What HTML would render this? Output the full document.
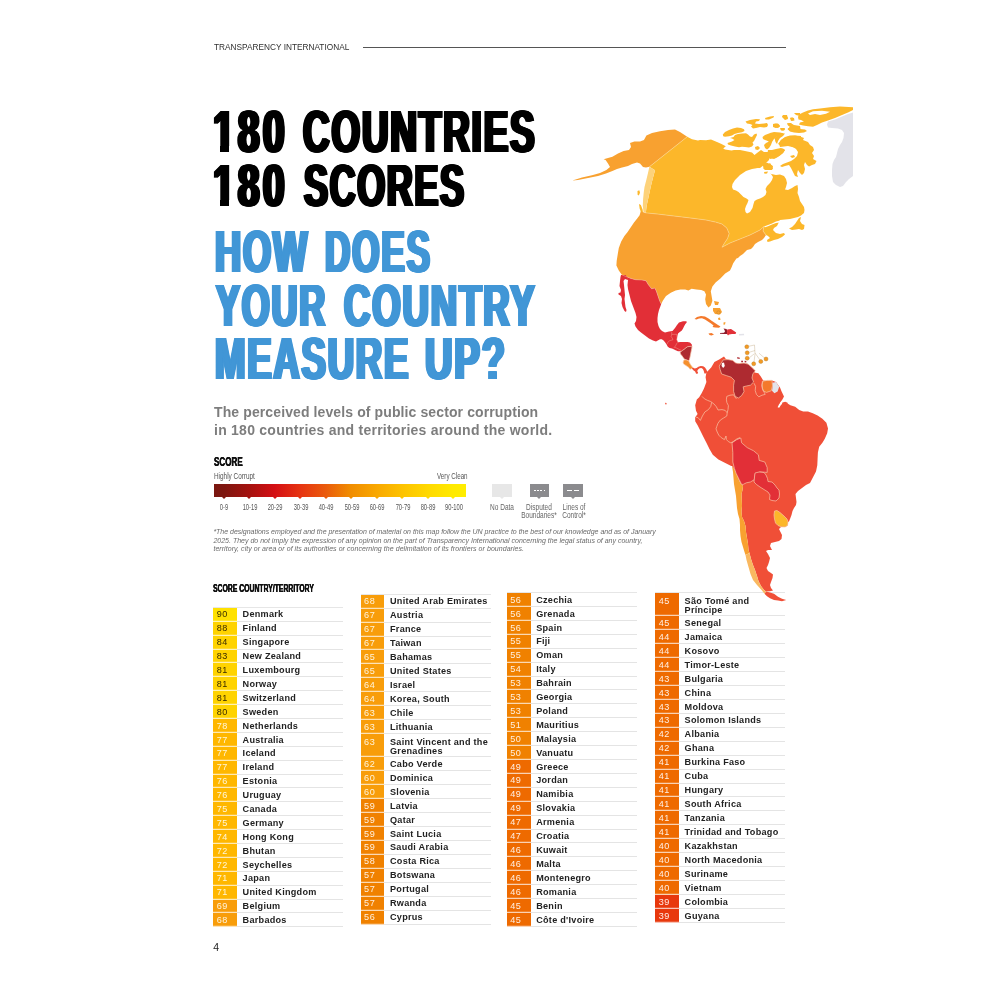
<!DOCTYPE html>
<html lang="en">
<head>
<meta charset="utf-8">
<title>Corruption Perceptions Index 2024 - 180 Countries, 180 Scores</title>
<style>
html,body{margin:0;padding:0;background:#fff;}
body{width:1000px;height:1000px;position:relative;overflow:hidden;font-family:"Liberation Sans",sans-serif;color:#1d1d1b;}
.abs{position:absolute;white-space:nowrap;}
.hdr{left:213.6px;top:41.6px;font-size:9px;line-height:11px;color:#303030;transform-origin:0 0;transform:scaleX(.92);}
.hline{position:absolute;left:363px;top:46.9px;width:423px;height:1px;background:#555;}
h1,h2,p{margin:0;padding:0;}
.t{position:absolute;white-space:nowrap;font-weight:bold;font-size:58.5px;line-height:58.5px;transform-origin:0 0;text-shadow:-2.80px 0 0 currentColor,-1.87px 0 0 currentColor,-0.93px 0 0 currentColor,0.93px 0 0 currentColor,1.87px 0 0 currentColor,2.80px 0 0 currentColor;}
.k{color:#000;}
.cv{position:absolute;background:#fff;}
.b{color:#4196d6;}
.sub{position:absolute;left:214px;top:402.8px;font-weight:bold;font-size:14px;line-height:18.4px;color:#7d7d7d;white-space:nowrap;}
.sub span{display:block;}
.cond{position:absolute;white-space:nowrap;transform-origin:0 0;}
.score{left:213.8px;top:456.4px;font-weight:bold;font-size:12.4px;line-height:13px;transform:scaleX(.65);color:#111;text-shadow:.35px 0 0 #111,-.2px 0 0 #111;}
.hc,.vc{top:470.6px;font-size:8.6px;line-height:10px;color:#555;}
.hc{left:213.8px;transform:scaleX(.744);}
.vc{left:436.8px;transform:scaleX(.728);}
.bar{position:absolute;left:214.2px;top:484.2px;width:252px;height:12.8px;background:linear-gradient(90deg,#7a1710 0%,#7e1710 4%,#a5120f 14%,#d40f14 24%,#e63312 34%,#ea5b0c 44.4%,#f08c00 54%,#f9a800 64.6%,#fdc300 75%,#ffd900 85%,#ffea00 95%,#ffed00 100%);}
.tk{position:absolute;top:496.9px;width:0;height:0;border-left:2.2px solid transparent;border-right:2.2px solid transparent;border-top:2.6px solid #c00;}
.lb{position:absolute;top:501.6px;width:40px;text-align:center;font-size:9px;line-height:10px;color:#555;white-space:nowrap;transform:scaleX(.64);}
.box{position:absolute;top:484px;height:13px;}
.nd{left:492px;width:19.8px;background:#e7e7e7;}
.db{left:529.7px;width:19.3px;background:#8b8b8e;}
.lc{left:563.4px;width:19.2px;background:#8b8b8e;}
.dots{position:absolute;left:4.2px;top:5.9px;width:11.6px;height:1px;background:repeating-linear-gradient(90deg,#fff 0,#fff 1.9px,transparent 1.9px,transparent 3.2px);}
.dash{position:absolute;top:5.8px;width:5px;height:1.1px;background:#fff;}
.ptr{position:absolute;top:496.9px;width:0;height:0;border-left:2px solid transparent;border-right:2px solid transparent;border-top:2.4px solid #8b8b8e;}
.ll{position:absolute;width:60px;text-align:center;font-size:8.6px;line-height:8.1px;color:#666;white-space:nowrap;transform:scaleX(.76);top:502.6px;}
.fn{position:absolute;left:213.4px;top:528.2px;font-style:italic;font-size:7px;line-height:8.5px;color:#6a6a6a;white-space:nowrap;}
.fn span{display:block;}
.th{left:213.4px;top:581.2px;font-weight:bold;font-size:11.6px;line-height:13px;transform:scaleX(.59);color:#111;text-shadow:.35px 0 0 #111,-.2px 0 0 #111;}
.col{position:absolute;border-top:1px solid #e6e6e6;}
.row{position:relative;box-sizing:border-box;border-bottom:1px solid #e4e4e4;font-size:9.1px;line-height:12.9px;white-space:nowrap;}
.sc{position:absolute;left:0;top:0;bottom:-1px;line-height:12.9px;padding-top:.6px;width:20.4px;padding-left:3.6px;text-align:left;letter-spacing:.5px;box-shadow:inset 0 -1.2px 0 rgba(255,255,255,.7);}
.nm{position:absolute;left:29.5px;top:.6px;font-weight:bold;color:#222;letter-spacing:.27px;}
.dbl .nm{line-height:9px;top:3.7px;}
.dbl .sc{line-height:9px;padding-top:3.7px;}
.pn{left:213.3px;top:941px;font-size:10.5px;line-height:12px;color:#222;}
.map{position:absolute;left:0;top:0;width:1000px;height:1000px;}
</style>
</head>
<body>
<div class="abs hdr">TRANSPARENCY INTERNATIONAL</div>
<div class="hline"></div>
<h1>
<span class="t k" style="left:213.0px;top:103.3px;transform:scaleX(0.665);letter-spacing:5.0px">180</span> <span class="t k" style="left:303.1px;top:103.3px;transform:scaleX(0.63);letter-spacing:2.9px">COUNTRIES</span>
<span class="t k" style="left:213.0px;top:157.3px;transform:scaleX(0.665);letter-spacing:5.0px">180</span> <span class="t k" style="left:304.1px;top:157.3px;transform:scaleX(0.615);letter-spacing:2.62px">SCORES</span>
</h1>
<h2>
<span class="t b" style="left:215.3px;top:223.4px;transform:scaleX(0.62);letter-spacing:2.96px">HOW</span> <span class="t b" style="left:325.0px;top:223.4px;transform:scaleX(0.6);letter-spacing:3.09px">DOES</span>
<span class="t b" style="left:215.9px;top:277.3px;transform:scaleX(0.615);letter-spacing:2.91px">YOUR</span> <span class="t b" style="left:344.0px;top:277.3px;transform:scaleX(0.625);letter-spacing:2.99px">COUNTRY</span>
<span class="t b" style="left:215.3px;top:330.4px;transform:scaleX(0.625);letter-spacing:2.8px">MEASURE</span> <span class="t b" style="left:424.8px;top:330.4px;transform:scaleX(0.65);letter-spacing:3.04px">UP?</span>
</h2>
<i class="cv" style="left:212.4px;top:145.6px;width:7.6px;height:6.9px"></i><i class="cv" style="left:229px;top:145.6px;width:8px;height:6.9px"></i><i class="cv" style="left:212.4px;top:199.6px;width:7.6px;height:6.9px"></i><i class="cv" style="left:229px;top:199.6px;width:8px;height:6.9px"></i>

<p class="sub"><span style="letter-spacing:.11px">The perceived levels of public sector corruption</span><span style="letter-spacing:.25px">in 180 countries and territories around the world.</span></p>
<div class="cond score">SCORE</div>
<div class="cond hc">Highly Corrupt</div>
<div class="cond vc">Very Clean</div>
<div class="bar"></div>
<i class="tk" style="left:221.8px;border-top-color:#7e1710"></i><i class="tk" style="left:247.3px;border-top-color:#a5120f"></i><i class="tk" style="left:272.8px;border-top-color:#d40f14"></i><i class="tk" style="left:298.3px;border-top-color:#e63312"></i><i class="tk" style="left:323.8px;border-top-color:#ea5b0c"></i><i class="tk" style="left:349.3px;border-top-color:#f08c00"></i><i class="tk" style="left:374.8px;border-top-color:#f9a800"></i><i class="tk" style="left:400.3px;border-top-color:#fdc300"></i><i class="tk" style="left:425.8px;border-top-color:#ffd900"></i><i class="tk" style="left:451.3px;border-top-color:#ffea00"></i>
<span class="lb" style="left:204.0px">0-9</span><span class="lb" style="left:229.5px">10-19</span><span class="lb" style="left:255.0px">20-29</span><span class="lb" style="left:280.5px">30-39</span><span class="lb" style="left:306.0px">40-49</span><span class="lb" style="left:331.5px">50-59</span><span class="lb" style="left:357.0px">60-69</span><span class="lb" style="left:382.5px">70-79</span><span class="lb" style="left:408.0px">80-89</span><span class="lb" style="left:433.5px">90-100</span>
<div class="box nd"></div><i class="ptr" style="left:499.7px;border-top-color:#e7e7e7"></i>
<div class="box db"><i class="dots"></i></div><i class="ptr" style="left:537.2px"></i>
<div class="box lc"><i class="dash" style="left:3.3px"></i><i class="dash" style="left:10.9px"></i></div><i class="ptr" style="left:571px"></i>
<span class="ll" style="left:471.5px">No Data</span>
<span class="ll" style="left:509.3px">Disputed<br>Boundaries*</span>
<span class="ll" style="left:543.5px">Lines of<br>Control*</span>
<p class="fn"><span style="letter-spacing:-.014px">*The designations employed and the presentation of material on this map follow the UN practice to the best of our knowledge and as of January</span><span style="letter-spacing:.006px">2025. They do not imply the expression of any opinion on the part of Transparency International concerning the legal status of any country,</span><span style="letter-spacing:.054px">territory, city or area or of its authorities or concerning the delimitation of its frontiers or boundaries.</span></p>
<div class="cond th">SCORE COUNTRY/TERRITORY</div>
<div class="col c1" style="left:213.1px;top:606.9px;width:130.4px">
<div class="row" style="height:13.9px"><span class="sc" style="background:#ffe100;color:#3a3000">90</span><span class="nm">Denmark</span></div>
<div class="row" style="height:13.9px"><span class="sc" style="background:#ffd300;color:#3a2c00">88</span><span class="nm">Finland</span></div>
<div class="row" style="height:13.9px"><span class="sc" style="background:#ffd300;color:#3a2c00">84</span><span class="nm">Singapore</span></div>
<div class="row" style="height:13.9px"><span class="sc" style="background:#ffd300;color:#3a2c00">83</span><span class="nm">New Zealand</span></div>
<div class="row" style="height:13.9px"><span class="sc" style="background:#ffd300;color:#3a2c00">81</span><span class="nm">Luxembourg</span></div>
<div class="row" style="height:13.9px"><span class="sc" style="background:#ffd300;color:#3a2c00">81</span><span class="nm">Norway</span></div>
<div class="row" style="height:13.9px"><span class="sc" style="background:#ffd300;color:#3a2c00">81</span><span class="nm">Switzerland</span></div>
<div class="row" style="height:13.9px"><span class="sc" style="background:#ffd300;color:#3a2c00">80</span><span class="nm">Sweden</span></div>
<div class="row" style="height:13.9px"><span class="sc" style="background:#ffb700;color:#fff6d8">78</span><span class="nm">Netherlands</span></div>
<div class="row" style="height:13.9px"><span class="sc" style="background:#ffb700;color:#fff6d8">77</span><span class="nm">Australia</span></div>
<div class="row" style="height:13.9px"><span class="sc" style="background:#ffb700;color:#fff6d8">77</span><span class="nm">Iceland</span></div>
<div class="row" style="height:13.9px"><span class="sc" style="background:#ffb700;color:#fff6d8">77</span><span class="nm">Ireland</span></div>
<div class="row" style="height:13.9px"><span class="sc" style="background:#ffb700;color:#fff6d8">76</span><span class="nm">Estonia</span></div>
<div class="row" style="height:13.9px"><span class="sc" style="background:#ffb700;color:#fff6d8">76</span><span class="nm">Uruguay</span></div>
<div class="row" style="height:13.9px"><span class="sc" style="background:#ffb700;color:#fff6d8">75</span><span class="nm">Canada</span></div>
<div class="row" style="height:13.9px"><span class="sc" style="background:#ffb700;color:#fff6d8">75</span><span class="nm">Germany</span></div>
<div class="row" style="height:13.9px"><span class="sc" style="background:#ffb700;color:#fff6d8">74</span><span class="nm">Hong Kong</span></div>
<div class="row" style="height:13.9px"><span class="sc" style="background:#ffb700;color:#fff6d8">72</span><span class="nm">Bhutan</span></div>
<div class="row" style="height:13.9px"><span class="sc" style="background:#ffb700;color:#fff6d8">72</span><span class="nm">Seychelles</span></div>
<div class="row" style="height:13.9px"><span class="sc" style="background:#ffb700;color:#fff6d8">71</span><span class="nm">Japan</span></div>
<div class="row" style="height:13.9px"><span class="sc" style="background:#ffb700;color:#fff6d8">71</span><span class="nm">United Kingdom</span></div>
<div class="row" style="height:13.9px"><span class="sc" style="background:#f89d0a;color:#fff4dc">69</span><span class="nm">Belgium</span></div>
<div class="row" style="height:13.9px"><span class="sc" style="background:#f89d0a;color:#fff4dc">68</span><span class="nm">Barbados</span></div>
</div>
<div class="col c2" style="left:360.5px;top:593.7px;width:130.4px">
<div class="row" style="height:13.95px"><span class="sc" style="background:#f89d0a;color:#fff4dc">68</span><span class="nm">United Arab Emirates</span></div>
<div class="row" style="height:13.95px"><span class="sc" style="background:#f89d0a;color:#fff4dc">67</span><span class="nm">Austria</span></div>
<div class="row" style="height:13.95px"><span class="sc" style="background:#f89d0a;color:#fff4dc">67</span><span class="nm">France</span></div>
<div class="row" style="height:13.95px"><span class="sc" style="background:#f89d0a;color:#fff4dc">67</span><span class="nm">Taiwan</span></div>
<div class="row" style="height:13.95px"><span class="sc" style="background:#f89d0a;color:#fff4dc">65</span><span class="nm">Bahamas</span></div>
<div class="row" style="height:13.95px"><span class="sc" style="background:#f89d0a;color:#fff4dc">65</span><span class="nm">United States</span></div>
<div class="row" style="height:13.95px"><span class="sc" style="background:#f89d0a;color:#fff4dc">64</span><span class="nm">Israel</span></div>
<div class="row" style="height:13.95px"><span class="sc" style="background:#f89d0a;color:#fff4dc">64</span><span class="nm">Korea, South</span></div>
<div class="row" style="height:13.95px"><span class="sc" style="background:#f89d0a;color:#fff4dc">63</span><span class="nm">Chile</span></div>
<div class="row" style="height:13.95px"><span class="sc" style="background:#f89d0a;color:#fff4dc">63</span><span class="nm">Lithuania</span></div>
<div class="row dbl" style="height:23.2px"><span class="sc" style="background:#f89d0a;color:#fff4dc">63</span><span class="nm">Saint Vincent and the<br>Grenadines</span></div>
<div class="row" style="height:13.95px"><span class="sc" style="background:#f89d0a;color:#fff4dc">62</span><span class="nm">Cabo Verde</span></div>
<div class="row" style="height:13.95px"><span class="sc" style="background:#f89d0a;color:#fff4dc">60</span><span class="nm">Dominica</span></div>
<div class="row" style="height:13.95px"><span class="sc" style="background:#f89d0a;color:#fff4dc">60</span><span class="nm">Slovenia</span></div>
<div class="row" style="height:13.95px"><span class="sc" style="background:#f08100;color:#fff1e0">59</span><span class="nm">Latvia</span></div>
<div class="row" style="height:13.95px"><span class="sc" style="background:#f08100;color:#fff1e0">59</span><span class="nm">Qatar</span></div>
<div class="row" style="height:13.95px"><span class="sc" style="background:#f08100;color:#fff1e0">59</span><span class="nm">Saint Lucia</span></div>
<div class="row" style="height:13.95px"><span class="sc" style="background:#f08100;color:#fff1e0">59</span><span class="nm">Saudi Arabia</span></div>
<div class="row" style="height:13.95px"><span class="sc" style="background:#f08100;color:#fff1e0">58</span><span class="nm">Costa Rica</span></div>
<div class="row" style="height:13.95px"><span class="sc" style="background:#f08100;color:#fff1e0">57</span><span class="nm">Botswana</span></div>
<div class="row" style="height:13.95px"><span class="sc" style="background:#f08100;color:#fff1e0">57</span><span class="nm">Portugal</span></div>
<div class="row" style="height:13.95px"><span class="sc" style="background:#f08100;color:#fff1e0">57</span><span class="nm">Rwanda</span></div>
<div class="row" style="height:13.95px"><span class="sc" style="background:#f08100;color:#fff1e0">56</span><span class="nm">Cyprus</span></div>
</div>
<div class="col c3" style="left:506.7px;top:592.1px;width:130.7px">
<div class="row" style="height:13.91px"><span class="sc" style="background:#f08100;color:#fff1e0">56</span><span class="nm">Czechia</span></div>
<div class="row" style="height:13.91px"><span class="sc" style="background:#f08100;color:#fff1e0">56</span><span class="nm">Grenada</span></div>
<div class="row" style="height:13.91px"><span class="sc" style="background:#f08100;color:#fff1e0">56</span><span class="nm">Spain</span></div>
<div class="row" style="height:13.91px"><span class="sc" style="background:#f08100;color:#fff1e0">55</span><span class="nm">Fiji</span></div>
<div class="row" style="height:13.91px"><span class="sc" style="background:#f08100;color:#fff1e0">55</span><span class="nm">Oman</span></div>
<div class="row" style="height:13.91px"><span class="sc" style="background:#f08100;color:#fff1e0">54</span><span class="nm">Italy</span></div>
<div class="row" style="height:13.91px"><span class="sc" style="background:#f08100;color:#fff1e0">53</span><span class="nm">Bahrain</span></div>
<div class="row" style="height:13.91px"><span class="sc" style="background:#f08100;color:#fff1e0">53</span><span class="nm">Georgia</span></div>
<div class="row" style="height:13.91px"><span class="sc" style="background:#f08100;color:#fff1e0">53</span><span class="nm">Poland</span></div>
<div class="row" style="height:13.91px"><span class="sc" style="background:#f08100;color:#fff1e0">51</span><span class="nm">Mauritius</span></div>
<div class="row" style="height:13.91px"><span class="sc" style="background:#f08100;color:#fff1e0">50</span><span class="nm">Malaysia</span></div>
<div class="row" style="height:13.91px"><span class="sc" style="background:#f08100;color:#fff1e0">50</span><span class="nm">Vanuatu</span></div>
<div class="row" style="height:13.91px"><span class="sc" style="background:#ee6a00;color:#fff0e4">49</span><span class="nm">Greece</span></div>
<div class="row" style="height:13.91px"><span class="sc" style="background:#ee6a00;color:#fff0e4">49</span><span class="nm">Jordan</span></div>
<div class="row" style="height:13.91px"><span class="sc" style="background:#ee6a00;color:#fff0e4">49</span><span class="nm">Namibia</span></div>
<div class="row" style="height:13.91px"><span class="sc" style="background:#ee6a00;color:#fff0e4">49</span><span class="nm">Slovakia</span></div>
<div class="row" style="height:13.91px"><span class="sc" style="background:#ee6a00;color:#fff0e4">47</span><span class="nm">Armenia</span></div>
<div class="row" style="height:13.91px"><span class="sc" style="background:#ee6a00;color:#fff0e4">47</span><span class="nm">Croatia</span></div>
<div class="row" style="height:13.91px"><span class="sc" style="background:#ee6a00;color:#fff0e4">46</span><span class="nm">Kuwait</span></div>
<div class="row" style="height:13.91px"><span class="sc" style="background:#ee6a00;color:#fff0e4">46</span><span class="nm">Malta</span></div>
<div class="row" style="height:13.91px"><span class="sc" style="background:#ee6a00;color:#fff0e4">46</span><span class="nm">Montenegro</span></div>
<div class="row" style="height:13.91px"><span class="sc" style="background:#ee6a00;color:#fff0e4">46</span><span class="nm">Romania</span></div>
<div class="row" style="height:13.91px"><span class="sc" style="background:#ee6a00;color:#fff0e4">45</span><span class="nm">Benin</span></div>
<div class="row" style="height:13.91px"><span class="sc" style="background:#ee6a00;color:#fff0e4">45</span><span class="nm">Côte d'Ivoire</span></div>
</div>
<div class="col c4" style="left:655.1px;top:592.1px;width:130.2px">
<div class="row dbl" style="height:23.2px"><span class="sc" style="background:#ee6a00;color:#fff0e4">45</span><span class="nm">São Tomé and<br>Príncipe</span></div>
<div class="row" style="height:13.94px"><span class="sc" style="background:#ee6a00;color:#fff0e4">45</span><span class="nm">Senegal</span></div>
<div class="row" style="height:13.94px"><span class="sc" style="background:#ee6a00;color:#fff0e4">44</span><span class="nm">Jamaica</span></div>
<div class="row" style="height:13.94px"><span class="sc" style="background:#ee6a00;color:#fff0e4">44</span><span class="nm">Kosovo</span></div>
<div class="row" style="height:13.94px"><span class="sc" style="background:#ee6a00;color:#fff0e4">44</span><span class="nm">Timor-Leste</span></div>
<div class="row" style="height:13.94px"><span class="sc" style="background:#ee6a00;color:#fff0e4">43</span><span class="nm">Bulgaria</span></div>
<div class="row" style="height:13.94px"><span class="sc" style="background:#ee6a00;color:#fff0e4">43</span><span class="nm">China</span></div>
<div class="row" style="height:13.94px"><span class="sc" style="background:#ee6a00;color:#fff0e4">43</span><span class="nm">Moldova</span></div>
<div class="row" style="height:13.94px"><span class="sc" style="background:#ee6a00;color:#fff0e4">43</span><span class="nm">Solomon Islands</span></div>
<div class="row" style="height:13.94px"><span class="sc" style="background:#ee6a00;color:#fff0e4">42</span><span class="nm">Albania</span></div>
<div class="row" style="height:13.94px"><span class="sc" style="background:#ee6a00;color:#fff0e4">42</span><span class="nm">Ghana</span></div>
<div class="row" style="height:13.94px"><span class="sc" style="background:#ee6a00;color:#fff0e4">41</span><span class="nm">Burkina Faso</span></div>
<div class="row" style="height:13.94px"><span class="sc" style="background:#ee6a00;color:#fff0e4">41</span><span class="nm">Cuba</span></div>
<div class="row" style="height:13.94px"><span class="sc" style="background:#ee6a00;color:#fff0e4">41</span><span class="nm">Hungary</span></div>
<div class="row" style="height:13.94px"><span class="sc" style="background:#ee6a00;color:#fff0e4">41</span><span class="nm">South Africa</span></div>
<div class="row" style="height:13.94px"><span class="sc" style="background:#ee6a00;color:#fff0e4">41</span><span class="nm">Tanzania</span></div>
<div class="row" style="height:13.94px"><span class="sc" style="background:#ee6a00;color:#fff0e4">41</span><span class="nm">Trinidad and Tobago</span></div>
<div class="row" style="height:13.94px"><span class="sc" style="background:#ee6a00;color:#fff0e4">40</span><span class="nm">Kazakhstan</span></div>
<div class="row" style="height:13.94px"><span class="sc" style="background:#ee6a00;color:#fff0e4">40</span><span class="nm">North Macedonia</span></div>
<div class="row" style="height:13.94px"><span class="sc" style="background:#ee6a00;color:#fff0e4">40</span><span class="nm">Suriname</span></div>
<div class="row" style="height:13.94px"><span class="sc" style="background:#ee6a00;color:#fff0e4">40</span><span class="nm">Vietnam</span></div>
<div class="row" style="height:13.94px"><span class="sc" style="background:#e8380d;color:#ffece6">39</span><span class="nm">Colombia</span></div>
<div class="row" style="height:13.94px"><span class="sc" style="background:#e8380d;color:#ffece6">39</span><span class="nm">Guyana</span></div>
</div>
<div class="abs pn">4</div>
<svg class="map" width="1000" height="1000" viewBox="0 0 1000 1000" role="img" aria-label="Map of the Americas coloured by CPI score">
<defs><clipPath id="mc"><rect x="540" y="90" width="313" height="530"/></clipPath></defs>
<g clip-path="url(#mc)">
<path d="M645.9,212.3 646.6,206.0 648.7,196.2 650.8,186.4 652.9,178.0 655.0,170.3 649.4,166.8 687.2,136.8 692.0,139.2 698.0,140.4 700.0,140.0 706.0,140.2 711.0,139.5 717.0,142.0 721.5,144.0 725.8,146.2 723.2,148.5 725.0,149.5 731.5,150.5 734.0,150.0 740.0,150.0 745.0,151.0 752.0,152.5 754.5,155.0 757.0,153.0 761.0,150.0 764.0,152.0 768.0,152.0 770.0,154.5 769.0,160.0 765.0,164.0 762.0,166.5 760.0,168.0 756.0,169.0 752.0,170.0 776.0,175.0 780.0,174.5 784.0,176.0 786.0,179.0 787.0,183.0 786.0,187.0 785.0,189.5 788.0,190.0 792.0,188.0 795.0,186.0 797.5,185.0 798.0,189.0 797.5,193.0 799.0,197.0 800.0,201.0 802.0,204.0 804.0,207.0 804.5,210.0 804.0,213.0 801.0,215.5 798.0,217.0 794.0,218.0 790.0,219.0 785.0,219.5 780.0,220.0 778.0,224.0 777.0,226.0 774.0,228.0 773.0,230.0 776.0,233.0 780.0,234.0 784.0,233.0 785.0,234.5 782.0,237.0 778.0,239.0 774.0,240.0 770.0,241.5 767.5,242.0 767.0,240.0 770.0,238.0 768.0,236.0 766.0,235.0 766.0,235.0 763.0,231.0 764.0,226.5 760.0,230.0 750.0,235.0 740.0,239.0 730.0,243.0 722.0,247.2 724.4,243.2 727.6,238.4 729.2,233.6 726.8,228.0 722.0,224.0 715.6,222.1 706.0,220.0 690.0,217.9 674.0,216.0 658.0,214.1 645.2,212.8Z" fill="#fcb72a"/>
<path d="M649.4,166.8 655.0,170.3 652.9,178.0 650.8,186.4 648.7,196.2 646.6,206.0 645.9,212.3 643.5,212.0 642.8,206.0 643.1,199.0 643.8,192.0 644.5,187.1 646.3,180.1 648.0,173.1Z" fill="#fdd27a"/>
<path d="M639.0,203.9 640.9,205.0 642.5,209.2 643.1,212.7 641.0,212.3 639.7,208.8Z" fill="#fcb72a"/>
<path d="M637.5,191.0 639.3,190.3 640.0,192.7 638.8,195.5 637.6,194.8Z" fill="#fcb72a"/>
<path d="M732.5,184.0 735.0,180.0 740.0,175.0 746.0,171.0 752.0,169.0 758.0,168.0 762.0,168.5 763.0,170.0 767.0,171.0 771.0,174.0 773.0,177.0 772.0,180.0 770.0,183.0 767.0,186.0 765.5,189.0 766.5,192.0 765.5,195.0 763.0,197.0 760.0,198.5 757.0,199.5 754.5,201.0 753.5,204.0 752.5,208.0 750.0,212.0 747.0,213.5 745.5,212.0 745.0,209.0 746.0,206.0 747.5,203.0 748.5,200.0 746.5,198.5 743.5,197.0 741.0,194.5 738.5,192.0 736.0,190.5 733.0,189.5 732.0,187.0Z" fill="#ffffff"/>
<path d="M764.0,226.5 768.0,225.0 772.0,223.5 776.0,221.5 780.0,220.5 780.0,222.5 776.0,223.0 772.0,224.5 768.0,226.2 765.0,227.2Z" fill="#ffffff"/>
<path d="M789.0,228.5 792.0,227.0 795.0,224.0 797.0,221.0 799.0,218.0 801.0,217.0 800.0,221.0 802.0,224.0 804.5,225.0 804.0,229.0 802.0,230.0 799.0,229.0 796.0,229.5 792.0,230.0Z" fill="#fcb72a"/>
<path d="M762.0,162.0 768.0,163.0 772.0,166.0 771.0,169.0 767.0,170.0 764.0,169.0 763.0,166.0Z" fill="#fcb72a"/>
<path d="M778.0,144.0 781.0,140.0 785.0,137.5 790.0,136.0 795.0,135.5 800.0,136.5 804.0,138.0 803.0,140.0 808.0,142.0 810.0,145.0 813.0,147.0 814.0,150.0 812.0,153.0 814.0,156.0 813.0,159.0 816.5,161.0 815.0,164.0 812.0,165.0 809.0,166.5 807.0,165.0 805.0,162.0 804.0,165.0 805.0,169.0 804.0,173.0 802.0,175.0 800.0,173.0 798.0,170.0 797.0,174.0 798.0,177.0 795.0,176.0 793.0,172.0 791.0,168.0 789.0,165.0 785.0,166.0 782.0,167.0 780.0,166.0 783.0,164.0 787.0,162.5 791.0,161.0 794.0,159.0 797.0,156.0 798.0,152.0 796.0,149.0 793.0,147.0 790.0,145.5 785.0,146.0 781.0,145.5Z" fill="#fcb72a"/>
<path d="M770.0,133.0 774.0,132.0 780.0,132.5 784.0,133.5 781.0,135.0 777.0,136.5 774.0,139.0 772.0,142.0 770.0,143.0 767.0,140.0 768.0,136.0Z" fill="#fcb72a"/>
<path d="M768.0,150.0 772.0,150.0 776.0,149.0 781.0,148.0 785.0,150.0 783.0,153.0 779.0,156.0 775.0,158.0 770.0,159.0 767.0,156.0Z" fill="#fcb72a"/>
<path d="M769.0,164.0 773.0,166.0 772.0,170.0 769.0,170.0Z" fill="#fcb72a"/>
<path d="M853.0,107.2 840.0,106.5 830.0,107.2 820.0,108.5 813.0,109.2 808.0,110.5 803.0,112.5 799.0,114.5 798.0,117.0 798.5,119.5 801.0,120.0 804.0,121.5 800.0,122.5 799.0,124.5 803.0,125.5 808.0,126.2 813.0,126.8 817.0,125.0 822.0,122.5 828.0,120.5 835.0,118.0 842.0,115.0 848.0,112.5 853.0,110.0Z" fill="#fcb72a"/>
<path d="M813.0,111.2 822.0,110.8 830.0,111.8 826.0,113.8 820.0,115.0 815.0,114.0 810.0,115.0 808.0,113.5Z" fill="#ffffff"/>
<path d="M787.5,129.0 790.0,127.0 795.0,128.5 800.0,129.0 805.0,129.5 807.0,131.0 804.0,132.5 799.0,133.0 794.0,132.5 790.0,131.5Z" fill="#fcb72a"/>
<path d="M782.0,116.0 786.0,115.0 788.0,118.0 785.0,119.5Z" fill="#fcb72a"/>
<path d="M790.0,118.0 793.0,117.5 794.0,120.0 791.0,121.0Z" fill="#fcb72a"/>
<path d="M773.0,124.0 778.0,123.5 780.0,126.0 776.0,128.0 773.0,127.0Z" fill="#fcb72a"/>
<path d="M780.0,128.5 785.0,128.0 784.0,130.5 781.0,130.5Z" fill="#fcb72a"/>
<path d="M787.0,123.5 791.0,123.0 793.0,125.0 790.0,126.2Z" fill="#fcb72a"/>
<path d="M783.0,115.0 787.0,115.0 788.0,119.0 785.0,120.0 782.0,117.0Z" fill="#fcb72a"/>
<path d="M790.5,117.5 794.0,118.0 794.5,120.5 791.5,121.0Z" fill="#fcb72a"/>
<path d="M794.0,113.0 800.0,113.0 800.0,116.0 796.0,115.0Z" fill="#fcb72a"/>
<path d="M765.0,118.0 770.0,116.5 774.0,116.0 773.5,117.5 769.0,119.5 765.5,119.5Z" fill="#fcb72a"/>
<path d="M745.5,121.5 750.0,120.0 756.0,119.0 760.0,119.3 759.0,121.0 756.0,121.5 755.0,123.5 759.0,124.0 764.0,123.5 767.0,123.0 768.0,125.0 767.0,127.0 764.0,127.5 760.0,127.0 756.0,128.0 753.0,128.5 751.0,126.5 752.5,125.0 750.0,124.0 747.0,123.5Z" fill="#fcb72a"/>
<path d="M773.0,124.0 776.0,123.5 779.0,124.5 780.0,126.5 778.0,128.0 775.0,127.5 773.5,126.0Z" fill="#fcb72a"/>
<path d="M780.0,128.0 784.0,128.0 785.0,130.0 782.0,130.5Z" fill="#fcb72a"/>
<path d="M787.0,123.5 790.0,123.0 794.0,125.0 800.0,126.0 801.0,132.0 795.0,132.0 790.0,131.0 788.0,129.0 790.0,127.0 788.0,125.5Z" fill="#fcb72a"/>
<path d="M722.8,134.5 725.0,132.0 729.0,130.0 733.0,128.5 737.0,127.5 741.0,128.0 744.0,129.2 744.5,131.0 742.0,132.2 738.0,133.0 734.5,134.0 732.0,135.5 729.0,136.2 725.0,136.8 723.2,136.2Z" fill="#fcb72a"/>
<path d="M727.5,143.0 732.0,141.5 734.5,140.0 732.0,138.5 730.0,138.0 733.5,137.0 735.0,135.0 738.0,134.0 742.0,133.5 746.0,133.2 748.0,134.5 750.0,136.5 752.0,137.0 754.0,134.5 756.5,133.5 757.0,135.0 755.5,138.0 754.0,141.0 752.5,142.5 753.5,144.5 752.0,146.5 749.0,147.5 745.0,147.0 742.0,146.8 739.0,147.2 735.0,146.5 731.0,145.5 728.0,144.5Z" fill="#fcb72a"/>
<path d="M762.5,137.0 765.0,135.0 769.0,133.5 773.0,133.0 776.0,134.0 774.0,136.0 772.0,138.5 770.0,140.0 768.0,141.0 765.0,140.0 763.0,139.0Z" fill="#fcb72a"/>
<path d="M764.0,145.0 766.0,143.0 770.0,141.0 772.0,142.0 771.0,145.0 769.0,148.0 767.0,149.5 765.0,148.0Z" fill="#fcb72a"/>
<path d="M774.5,138.0 778.0,135.0 782.0,133.5 785.0,133.5 783.0,136.0 780.0,138.0 778.0,141.0 777.0,144.0 775.5,142.0Z" fill="#fcb72a"/>
<path d="M779.0,144.0 781.0,140.0 785.0,137.0 790.0,135.5 795.0,135.5 801.0,136.0 801.0,147.0 796.0,148.0 792.0,147.0 788.0,146.0 784.0,146.5 780.0,147.0Z" fill="#fcb72a"/>
<path d="M755.0,147.0 758.0,146.0 760.0,148.0 758.0,150.0 755.5,149.5Z" fill="#fcb72a"/>
<path d="M770.0,154.0 774.0,152.0 779.0,149.0 783.0,148.5 785.0,150.0 783.0,153.0 780.0,155.5 777.0,157.5 774.0,159.0 771.0,158.0Z" fill="#fcb72a"/>
<path d="M790.0,156.0 794.0,155.0 795.0,157.0 792.0,158.0Z" fill="#fcb72a"/>
<path d="M763.0,168.0 767.0,165.0 770.0,163.0 772.0,166.0 773.0,169.0 770.0,170.0 765.0,170.0Z" fill="#fcb72a"/>
<path d="M764.0,172.0 768.0,171.5 767.0,173.5 764.5,173.8Z" fill="#fcb72a"/>
<path d="M572.4,180.4 582.0,177.4 592.0,175.2 600.0,173.0 606.4,170.0 610.0,167.0 608.0,163.6 605.6,160.0 603.6,159.2 608.0,158.0 612.4,156.8 618.0,153.6 623.6,151.0 629.0,150.0 631.0,147.0 630.0,143.0 634.4,141.4 640.0,141.6 644.0,140.0 646.4,135.6 652.0,133.0 660.0,131.2 668.0,130.0 675.0,129.4 680.0,132.0 687.2,136.8 649.4,166.8 646.0,167.6 643.0,167.0 640.0,163.6 637.0,162.4 632.0,164.0 628.0,166.0 622.0,167.6 617.0,169.0 612.4,171.0 606.0,173.6 598.0,176.0 588.0,178.0 578.0,180.0Z" fill="#f8a130"/>
<path d="M645.2,212.8 658.0,214.1 674.0,216.0 690.0,217.9 706.0,220.0 715.6,222.1 722.0,224.0 726.8,228.0 729.2,233.6 727.6,238.4 724.4,243.2 722.0,247.2 730.0,243.0 740.0,239.0 750.0,235.0 760.0,230.0 764.0,226.5 763.0,231.0 766.0,235.0 764.0,238.0 762.0,240.0 758.0,242.0 755.0,244.0 753.0,247.0 751.0,249.0 747.0,250.0 745.0,252.0 743.0,254.0 740.0,256.0 738.0,258.0 736.4,258.4 733.2,263.2 731.6,267.2 730.0,270.4 725.2,273.6 720.4,278.4 715.6,282.4 712.4,286.4 710.8,291.2 711.6,296.0 712.4,300.8 710.8,305.6 708.4,307.5 706.0,304.0 705.2,299.2 706.0,294.4 704.4,291.2 701.2,289.9 696.4,289.6 691.6,288.8 688.4,290.4 685.2,289.6 680.4,289.6 675.6,290.4 670.8,292.8 666.0,296.0 662.8,300.8 661.2,304.0 661.2,304.0 659.6,300.8 658.0,296.0 656.4,291.2 654.8,288.0 651.6,288.8 648.4,284.8 646.0,280.8 642.0,280.0 635.6,279.7 630.8,278.4 626.0,276.5 622.0,274.9 618.8,270.4 616.4,265.6 616.7,260.8 617.7,254.4 618.8,248.0 621.2,241.6 624.4,236.0 627.6,232.0 630.8,227.2 634.0,222.4 637.2,218.4 639.6,215.2 640.7,211.5Z" fill="#f8a130"/>
<path d="M621.0,275.0 625.5,275.0 627.5,277.5 628.0,280.0 625.0,279.0 623.5,281.0 624.0,285.0 624.5,290.0 625.0,295.0 624.5,299.0 625.0,303.0 625.5,307.0 626.5,310.0 626.0,312.0 624.5,311.0 622.5,307.0 621.5,303.0 622.0,299.0 621.0,296.0 618.5,294.5 618.5,293.0 620.5,292.5 621.0,290.0 619.5,286.0 620.0,281.0 620.5,277.0Z" fill="#e22f37"/>
<path d="M622.0,274.9 626.0,276.5 630.8,278.4 635.6,279.7 642.0,280.0 646.0,280.8 648.4,284.8 651.6,288.8 654.8,288.0 656.4,291.2 658.0,296.0 659.6,300.8 661.2,304.0 660.5,306.0 659.0,310.0 658.0,314.0 657.5,318.0 657.5,322.0 658.5,326.0 660.0,329.0 662.0,331.0 665.0,332.5 669.0,331.5 672.5,331.0 675.0,328.0 677.0,325.0 679.0,322.5 683.0,321.2 686.5,321.0 686.4,320.9 686.7,322.4 685.2,324.2 684.0,326.6 682.8,329.0 681.6,330.8 679.8,332.0 678.0,333.5 677.1,337.4 676.8,339.8 678.0,342.2 680.4,341.9 684.0,342.1 687.6,341.9 690.0,342.5 691.8,344.6 692.1,346.1 690.0,346.4 687.6,346.7 685.8,347.9 684.0,349.4 682.2,350.6 681.0,351.5 680.4,351.2 678.0,351.2 675.6,350.3 674.1,349.4 672.0,348.5 669.6,347.9 667.8,346.7 666.6,344.6 665.4,342.8 663.6,340.4 661.8,339.2 660.0,339.2 656.0,341.5 653.0,340.5 649.0,338.5 645.0,335.5 641.0,332.5 638.0,330.0 635.5,326.5 634.5,323.5 636.0,321.0 636.5,317.0 635.5,313.0 634.0,309.0 632.5,305.0 631.0,301.0 630.0,297.0 629.0,293.0 628.0,289.0 627.5,285.0 628.0,280.0 625.5,275.0 621.0,275.0Z" fill="#e22f37"/>
<path d="M692.1,346.1 691.8,348.2 691.2,351.2 690.6,354.2 690.0,357.2 689.4,359.6 688.8,360.8 686.4,359.9 684.6,359.3 683.4,357.8 682.2,356.0 680.7,354.2 680.1,352.7 681.0,351.5 682.2,350.6 684.0,349.4 685.8,347.9 687.6,346.7 690.0,346.4Z" fill="#ae2a30" stroke="#f8c4a6" stroke-width="0.7" stroke-linejoin="round"/>
<path d="M684.0,359.9 686.4,359.9 688.8,361.1 689.7,363.2 691.2,365.6 692.7,367.4 691.8,368.6 690.0,369.2 688.8,367.4 687.0,366.2 685.2,365.0 683.7,364.1 683.1,362.3Z" fill="#f5902c" stroke="#f8c4a6" stroke-width="0.7" stroke-linejoin="round"/>
<path d="M691.8,368.6 692.7,367.4 694.8,368.6 696.6,368.0 698.4,366.8 700.8,365.9 703.2,366.2 705.0,367.4 706.5,369.8 707.4,372.2 705.6,373.4 704.4,373.4 703.8,371.0 702.9,368.9 701.4,368.0 699.6,368.3 698.1,369.5 697.2,371.0 698.1,372.8 697.2,374.0 696.0,373.4 695.1,371.6 693.6,370.4Z" fill="#f04f37"/>
<path d="M694.5,319.0 697.0,317.0 701.0,316.0 705.0,316.5 708.5,318.5 712.0,321.0 715.0,323.0 718.0,325.0 720.5,326.5 719.0,327.8 715.0,327.5 712.5,327.0 713.5,325.5 711.0,323.5 708.0,321.5 705.0,319.5 702.0,318.2 699.0,318.5 696.5,319.5Z" fill="#f4792b"/>
<path d="M708.5,333.5 711.5,333.0 714.0,334.5 711.5,335.5 709.5,335.0Z" fill="#f4792b"/>
<path d="M723.5,328.5 726.5,329.0 727.5,331.0 727.0,334.0 724.0,334.0 720.0,333.8 720.0,333.0 724.0,332.8 725.0,331.5 724.5,330.0Z" fill="#8e1c2c"/>
<path d="M727.2,329.5 731.0,329.0 734.0,331.0 736.2,332.5 735.5,334.0 732.0,334.0 729.0,334.5 728.0,335.5 727.0,334.0Z" fill="#e22f37"/>
<path d="M739.0,334.0 744.0,333.8 744.2,335.2 739.0,335.5Z" fill="#e3e3e9"/>
<path d="M714.0,301.0 719.0,302.0 718.0,305.0 715.0,305.0Z" fill="#f8a130"/>
<path d="M713.0,308.0 720.0,308.0 722.0,312.0 720.0,314.5 715.0,314.0 713.0,311.0Z" fill="#f8a130"/>
<path d="M718.0,318.0 720.0,317.5 720.5,320.0 718.5,320.0Z" fill="#f8a130"/>
<path d="M723.5,322.5 725.5,322.0 725.0,324.5 723.5,324.8Z" fill="#f8a130"/>
<path d="M706.4,372.4 711.2,367.6 714.4,362.0 719.2,359.6 724.0,356.4 725.6,358.8 728.0,359.9 732.8,360.4 735.2,362.8 738.4,363.6 744.0,363.1 748.0,364.1 751.2,366.8 755.2,370.8 754.4,372.4 758.4,373.2 760.8,376.4 763.2,380.4 767.2,381.2 772.0,380.4 776.0,382.0 780.0,387.6 781.6,391.6 784.0,396.4 782.4,399.6 780.0,402.8 782.4,405.2 786.4,402.8 790.4,405.2 795.2,406.8 799.2,410.0 803.2,411.6 808.0,411.6 812.8,413.2 817.6,415.6 822.4,418.8 826.4,422.8 828.0,428.4 827.2,433.2 824.8,438.8 822.4,442.8 819.2,446.8 817.9,452.4 817.6,458.8 817.3,465.2 816.0,471.6 810.0,483.0 806.0,485.0 802.0,488.0 798.0,491.0 795.5,494.0 796.0,498.0 796.5,502.0 796.0,505.0 794.0,508.0 792.5,511.0 791.5,515.0 790.0,519.0 789.0,521.5 788.0,522.0 787.5,525.5 785.0,527.0 781.0,527.0 779.0,529.0 780.5,532.0 782.0,535.0 781.5,539.0 779.0,541.0 775.0,542.0 771.0,543.0 770.0,546.0 771.5,549.0 772.0,550.0 768.0,550.0 766.0,551.0 768.0,554.0 770.0,558.0 769.0,562.0 768.0,565.0 766.5,568.0 768.0,571.0 771.0,573.0 773.0,574.5 772.5,578.0 771.0,582.0 770.0,585.0 771.0,588.0 773.0,590.5 770.0,591.2 766.0,591.5 764.0,590.0 761.0,586.0 758.5,581.0 757.0,576.0 755.0,570.0 753.0,565.0 751.0,559.0 749.5,553.0 748.5,550.0 748.0,544.0 747.0,538.0 746.0,532.0 745.5,526.0 744.0,521.0 742.0,517.0 741.5,512.0 742.0,506.0 741.8,500.0 741.5,494.0 742.5,490.0 743.0,486.0 741.0,484.0 739.0,480.0 737.0,475.0 735.0,470.0 732.0,466.0 731.2,466.0 724.8,462.8 718.4,459.6 712.8,454.8 709.6,449.2 706.4,442.8 703.2,436.4 700.0,430.0 697.6,425.2 695.2,421.2 695.2,417.2 697.6,414.0 696.0,410.8 695.2,405.2 696.8,399.6 699.2,397.2 701.6,393.2 704.0,388.4 706.4,382.0 705.6,377.2 706.4,372.4Z" fill="#f04f37"/>
<path d="M766.0,591.5 770.0,592.5 774.0,593.8 778.0,596.8 782.0,598.8 786.2,600.0 782.0,601.2 778.0,600.6 774.0,600.0 770.0,598.2 767.0,596.2 764.5,593.8Z" fill="#f04f37"/>
<path d="M732.0,466.0 733.0,472.0 733.5,478.0 734.0,484.0 735.0,490.0 736.0,496.0 736.5,502.0 737.0,508.0 738.0,514.0 739.5,519.0 740.0,525.0 740.0,530.0 740.5,536.0 741.5,542.0 743.0,547.0 744.5,552.0 745.5,555.0 749.5,553.0 748.5,550.0 748.0,544.0 747.0,538.0 746.0,532.0 745.5,526.0 744.0,521.0 742.0,517.0 741.5,512.0 742.0,506.0 741.8,500.0 741.5,494.0 742.5,490.0 743.0,486.0 741.0,484.0 739.0,480.0 737.0,475.0 735.0,470.0 732.0,466.0Z" fill="#f8a130"/>
<path d="M745.5,555.0 746.5,560.0 748.5,567.0 750.5,574.0 753.0,580.0 757.0,585.0 762.0,590.5 764.5,593.8 766.0,591.5 764.0,590.0 761.0,586.0 758.5,581.0 757.0,576.0 755.0,570.0 753.0,565.0 751.0,559.0 749.5,553.0Z" fill="#f9b860"/>
<path d="M721.9,362.0 723.2,359.9 728.0,359.6 732.8,360.4 735.2,362.8 738.4,363.6 744.0,363.1 748.0,364.1 751.2,366.8 755.2,370.8 752.8,374.0 752.0,378.0 753.6,382.0 750.4,385.2 746.4,386.0 743.2,386.8 744.0,391.6 741.6,395.6 738.4,398.0 735.2,396.4 733.6,391.6 733.6,385.2 734.4,380.4 731.2,377.2 726.4,375.6 721.6,374.0 720.0,369.2 719.2,366.0Z" fill="#ae2a30" stroke="#f8c4a6" stroke-width="0.7" stroke-linejoin="round"/>
<path d="M721.9,363.1 724.0,362.5 724.8,366.0 723.2,367.9 721.6,366.0Z" fill="#ffffff"/>
<path d="M762.4,381.2 767.2,380.4 772.0,380.4 772.5,386.0 771.2,390.8 766.4,392.4 763.2,390.8 761.9,386.0Z" fill="#f4792b" stroke="#f8c4a6" stroke-width="0.7" stroke-linejoin="round"/>
<path d="M772.5,382.8 776.0,382.0 779.2,386.8 777.6,391.6 774.4,393.2 772.0,390.8 772.8,386.0Z" fill="#e3e3e9"/>
<path d="M732.0,442.8 736.8,439.6 740.8,438.0 741.6,442.8 747.2,447.6 753.6,450.8 758.4,454.8 759.2,460.4 764.8,462.0 767.2,467.6 767.2,472.4 760.0,471.9 755.2,474.0 754.4,479.6 750.4,482.0 746.4,482.8 743.2,484.4 741.6,484.4 739.2,479.6 736.0,473.2 734.4,468.4 732.8,462.0 732.8,452.4Z" fill="#e22f37" stroke="#f8c4a6" stroke-width="0.7" stroke-linejoin="round"/>
<path d="M755.0,473.0 759.0,472.0 764.0,472.5 766.0,475.0 767.5,478.5 768.0,481.5 772.0,482.0 775.0,485.0 777.0,488.0 779.0,490.0 779.5,494.0 779.0,498.0 776.0,501.0 772.0,500.5 769.5,499.5 770.0,495.0 768.0,492.0 764.0,489.5 760.0,487.0 756.5,484.5 754.0,482.0 754.5,477.0Z" fill="#e22f37" stroke="#f8c4a6" stroke-width="0.7" stroke-linejoin="round"/>
<path d="M774.5,511.0 777.0,510.5 780.0,512.5 784.0,516.0 787.0,519.0 788.0,522.0 787.5,525.5 785.0,527.0 781.0,526.8 778.0,525.5 775.5,523.0 774.5,519.0 774.0,515.0Z" fill="#fcb72a" stroke="#f8c4a6" stroke-width="0.7" stroke-linejoin="round"/>
<path d="M853.0,112.5 848.0,114.0 842.0,116.5 835.0,119.5 828.0,121.5 827.0,124.5 828.0,127.5 832.0,128.0 838.0,128.5 842.0,130.0 844.0,133.0 843.5,138.0 842.0,142.0 840.0,145.0 838.0,149.0 837.0,153.0 836.0,157.0 834.0,160.0 832.5,164.0 832.0,170.0 832.0,176.0 833.0,182.0 836.0,185.0 840.0,187.0 843.0,186.0 846.0,182.0 849.0,179.0 853.0,176.0Z" fill="#e3e3e9"/>
<path d="M495.2,313.6 496.4,313.8 496.9,315.6 496.2,316.6 495.3,316.0Z" fill="#f8a130"/>
<path d="M665.2,402.8 666.6,403.0 666.4,404.4 665.2,404.2Z" fill="#f04f37"/>
<path d="M737.0,357.2 739.5,357.6 739.8,359.0 737.2,358.6Z" fill="#ae2a30"/>
<path d="M741.2,360.8 743.0,360.8 743.0,362.2 741.2,362.2Z" fill="#ae2a30"/>
<path d="M744.6,360.8 746.4,361.0 746.2,362.4 744.6,362.2Z" fill="#ae2a30"/>
<path d="M777.6,407.2 779.2,404.0 781.6,401.6 782.8,402.8 780.8,405.2 779.2,407.8Z" fill="#ffffff"/>
<path d="M782.4,402.4 785.2,401.8 787.6,402.8 787.4,405.6 785.2,407.2 782.8,406.4 781.8,404.4Z" fill="#f04f37"/>
<path d="M749.0,346.2 754.5,345.0" fill="none" stroke="#b79a6a" stroke-width="0.35" stroke-linejoin="round"/>
<path d="M749.5,352.2 755.0,350.5" fill="none" stroke="#b79a6a" stroke-width="0.35" stroke-linejoin="round"/>
<path d="M749.5,357.6 754.0,354.0" fill="none" stroke="#b79a6a" stroke-width="0.35" stroke-linejoin="round"/>
<path d="M754.0,362.2 755.0,354.0" fill="none" stroke="#b79a6a" stroke-width="0.35" stroke-linejoin="round"/>
<path d="M760.0,360.0 755.0,353.0" fill="none" stroke="#b79a6a" stroke-width="0.35" stroke-linejoin="round"/>
<path d="M764.5,358.0 759.0,353.2" fill="none" stroke="#b79a6a" stroke-width="0.35" stroke-linejoin="round"/>
<path d="M754.5,345.0 755.0,354.0" fill="none" stroke="#b79a6a" stroke-width="0.35" stroke-linejoin="round"/>
<path d="M702.0,396.4 704.4,398.8 707.6,400.4 710.8,401.6 714.0,404.0 716.4,406.8 718.0,410.0 722.0,409.6 725.2,410.4 727.2,412.8 726.8,416.0 723.6,418.0 720.4,420.0 718.0,423.2 716.8,426.4 716.0,428.8 717.2,432.0 718.8,435.2 721.2,437.6 724.4,439.6 726.0,436.0 726.4,439.6 728.4,441.6 730.8,442.8 733.2,441.6 736.4,439.2 740.0,437.6" fill="none" stroke="#f8c4a6" stroke-width="0.7" stroke-linejoin="round"/>
<path d="M696.0,417.2 698.0,417.6 700.4,420.4 702.4,416.0 704.8,412.0 708.4,409.6 710.8,406.4 711.6,402.4" fill="none" stroke="#f8c4a6" stroke-width="0.7" stroke-linejoin="round"/>
<path d="M727.2,412.8 728.0,409.6 728.4,405.6 726.8,402.4 726.4,399.2 726.8,396.4 730.0,395.2 733.6,394.8 734.8,396.8 736.4,398.8" fill="none" stroke="#f8c4a6" stroke-width="0.7" stroke-linejoin="round"/>
<path d="M754.0,383.2 755.6,386.4 755.2,390.4 756.4,394.4 758.8,396.8 762.0,395.2 765.2,394.4 764.0,392.0 762.4,388.8 762.0,384.8 762.8,381.6 764.4,380.0" fill="none" stroke="#f8c4a6" stroke-width="0.7" stroke-linejoin="round"/>
<path d="M645.2,212.8 658.0,214.1 674.0,216.0 690.0,217.9 706.0,220.0 715.6,222.1 722.0,224.0 726.8,228.0 729.2,233.6 727.6,238.4 724.4,243.2 722.0,247.2 730.0,243.0 740.0,239.0 750.0,235.0 760.0,230.0 764.0,226.5 763.0,231.0 766.0,235.0" fill="none" stroke="#fcd98e" stroke-width="0.6" stroke-linejoin="round"/>
<path d="M687.2,136.8 649.4,166.8" fill="none" stroke="#fcd98e" stroke-width="0.6" stroke-linejoin="round"/>
<path d="M661.2,304.0 659.6,300.8 658.0,296.0 656.4,291.2 654.8,288.0 651.6,288.8 648.4,284.8 646.0,280.8 642.0,280.0 635.6,279.7 630.8,278.4 626.0,276.5 622.0,274.9" fill="none" stroke="#f9c9a0" stroke-width="0.45" stroke-linejoin="round"/>
<path d="M671.7,332.0 671.7,334.4 676.8,334.3" fill="none" stroke="#f6b0a0" stroke-width="0.4" stroke-linejoin="round"/>
<path d="M671.7,334.4 671.1,336.8 672.3,338.0 672.9,339.8 669.6,340.7 667.8,342.2 667.2,344.0" fill="none" stroke="#f6b0a0" stroke-width="0.4" stroke-linejoin="round"/>
<path d="M676.8,334.3 677.1,337.4 676.8,339.8 678.0,342.2 676.8,343.4 675.9,345.2 674.7,347.0 673.5,348.2" fill="none" stroke="#f6b0a0" stroke-width="0.4" stroke-linejoin="round"/>
<path d="M674.7,347.3 676.8,348.2 679.2,349.4 681.0,350.3" fill="none" stroke="#f6b0a0" stroke-width="0.4" stroke-linejoin="round"/>
<circle cx="746.8" cy="346.8" r="2.0" fill="#f49a22" stroke="#b0792a" stroke-width="0.4"/>
<circle cx="747.2" cy="352.8" r="2.0" fill="#f49a22" stroke="#b0792a" stroke-width="0.4"/>
<circle cx="747.2" cy="358.2" r="2.0" fill="#f49a22" stroke="#b0792a" stroke-width="0.4"/>
<circle cx="753.7" cy="363.8" r="2.0" fill="#f49a22" stroke="#b0792a" stroke-width="0.4"/>
<circle cx="760.8" cy="361.5" r="2.0" fill="#f49a22" stroke="#b0792a" stroke-width="0.4"/>
<circle cx="766.0" cy="359.0" r="2.0" fill="#f49a22" stroke="#b0792a" stroke-width="0.4"/>
<circle cx="718.5" cy="312.5" r="1.7" fill="#f8a130" stroke="#b0792a" stroke-width="0.4"/>
</g></svg>
</body>
</html>
